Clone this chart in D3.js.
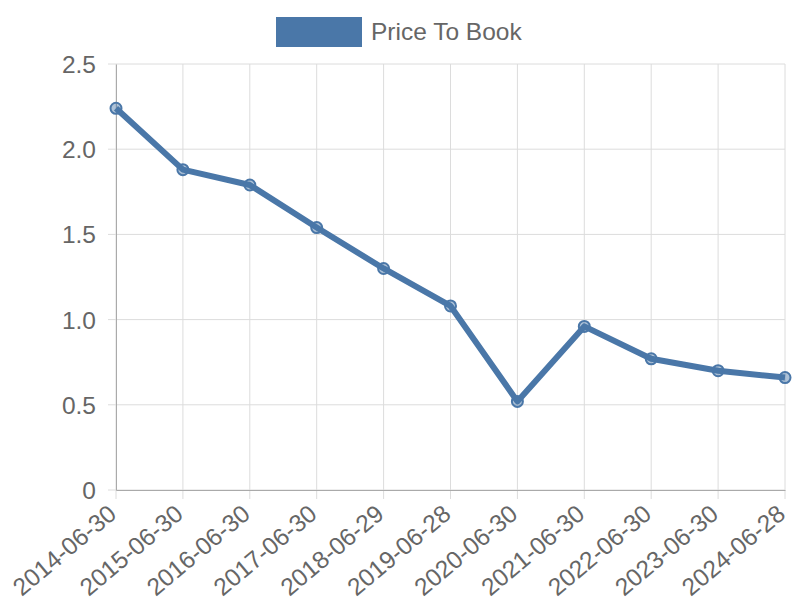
<!DOCTYPE html>
<html><head><meta charset="utf-8">
<script src="https://cdn.jsdelivr.net/npm/d3@7"></script>
<style>body{margin:0;background:#fff;}svg{display:block;font-family:"Liberation Sans",Arial,sans-serif;}</style>
</head><body>
<svg id="c" width="800" height="600"></svg>
<script>
const categories = ["2014-06-30","2015-06-30","2016-06-30","2017-06-30","2018-06-29","2019-06-28","2020-06-30","2021-06-30","2022-06-30","2023-06-30","2024-06-28"];
const values = [2.24,1.88,1.79,1.54,1.30,1.08,0.52,0.96,0.77,0.70,0.66];
const yTicks = [0,0.5,1.0,1.5,2.0,2.5];
const seriesName = "Price To Book";

const svg = d3.select("#c");
const m = {l:116, r:785, t:64, b:490};
const color = "#4a77a8";
const x = d3.scalePoint().domain(categories).range([m.l, m.r]);
const y = d3.scaleLinear().domain([0,2.5]).range([m.b, m.t]);

// grid
svg.append("g").selectAll("line").data(categories).join("line")
  .attr("x1", d=>x(d)).attr("x2", d=>x(d)).attr("y1", m.t).attr("y2", m.b+9)
  .attr("stroke", "#dcdcdc").attr("stroke-width",1);
svg.append("g").selectAll("line").data(yTicks).join("line")
  .attr("x1", m.l-8).attr("x2", m.r).attr("y1", d=>y(d)).attr("y2", d=>y(d))
  .attr("stroke", "#dcdcdc").attr("stroke-width",1);

// axes
const yAxis = svg.append("g").attr("transform",`translate(${m.l},0)`)
  .call(d3.axisLeft(y).tickValues(yTicks).tickFormat(d=> d===0?"0":d3.format(".1f")(d)).tickSize(0).tickPadding(20));
yAxis.select(".domain").attr("stroke","#aaa");
yAxis.selectAll("text").attr("fill","#666").style("font-size","24.5px").attr("dy","0.35em");

const xAxis = svg.append("g").attr("transform",`translate(0,${m.b})`)
  .call(d3.axisBottom(x).tickSize(0).tickPadding(0));
xAxis.select(".domain").attr("stroke","#aaa");
xAxis.selectAll("text").attr("fill","#666").style("font-size","24.5px")
  .attr("text-anchor","end").attr("y",0)
  .attr("transform","translate(-10,13) rotate(-40)").attr("dy","0.72em");

// line
svg.append("path").datum(values)
  .attr("d", d3.line().x((d,i)=>x(categories[i])).y(d=>y(d)))
  .attr("fill","none").attr("stroke",color).attr("stroke-width",6).attr("stroke-linejoin","round");
svg.append("g").selectAll("circle").data(values).join("circle")
  .attr("cx",(d,i)=>x(categories[i])).attr("cy",d=>y(d)).attr("r",5.5)
  .attr("fill","rgba(74,119,168,0.45)").attr("stroke",color).attr("stroke-width",2);

// legend
const lg = svg.append("g");
lg.append("rect").attr("x",276).attr("y",17).attr("width",86).attr("height",30).attr("fill",color);
lg.append("text").attr("x",371).attr("y",40).text(seriesName).attr("fill","#666").style("font-size","24.5px");
</script>
</body></html>
